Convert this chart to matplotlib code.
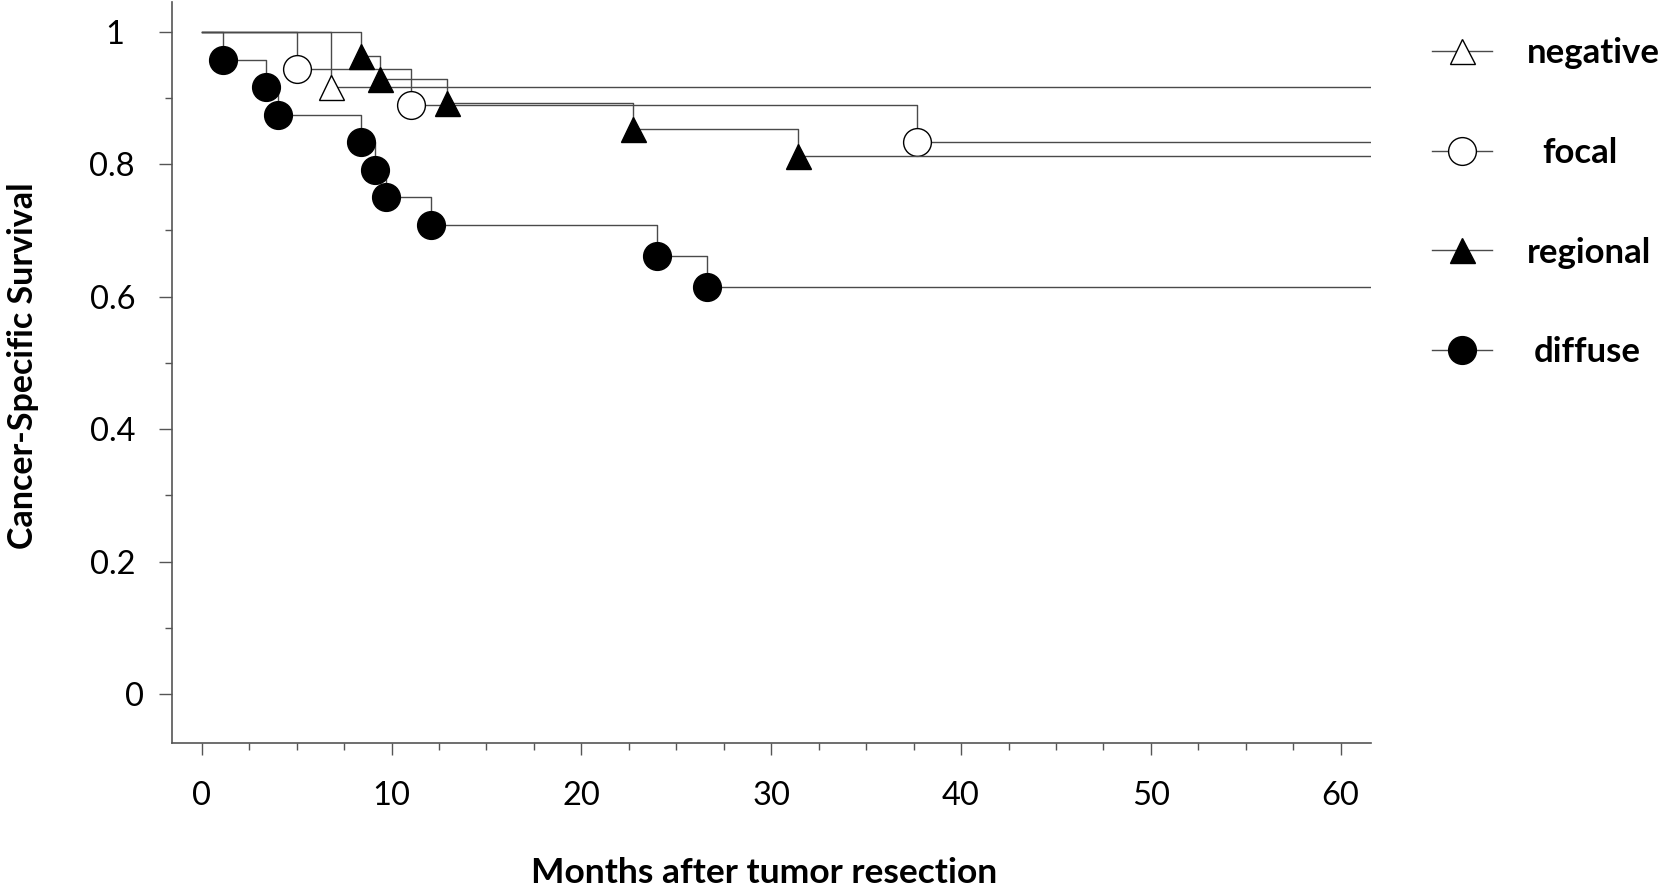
import matplotlib
matplotlib.use("Agg")
import matplotlib.pyplot as plt
import matplotlib.transforms as mtransforms
from matplotlib.ticker import MultipleLocator

plt.rcParams["font.family"] = ["Lato", "DejaVu Sans"]

# Kaplan-Meier steps (months, survival at each event)
groups = ["negative", "focal", "regional", "diffuse"]

negative_t = [6.8]
negative_s = [0.917]

focal_t = [5.0, 11.0, 37.7]
focal_s = [0.944, 0.889, 0.833]

regional_t = [8.4, 9.4, 12.9, 22.7, 31.4]
regional_s = [0.964, 0.929, 0.893, 0.854, 0.812]

diffuse_t = [1.1, 3.4, 4.0, 8.4, 9.1, 9.7, 12.1, 24.0, 26.6]
diffuse_s = [0.958, 0.917, 0.875, 0.833, 0.792, 0.750, 0.708, 0.662, 0.615]

follow_up_end = 61.6

LINE_COLOR = "#4a4a4a"
AXIS_COLOR = "#555555"

styles = {
    "negative": dict(marker="^", markersize=18, markerfacecolor="white"),
    "focal": dict(marker="o", markersize=20, markerfacecolor="white"),
    "regional": dict(marker="^", markersize=18, markerfacecolor="black"),
    "diffuse": dict(marker="o", markersize=20, markerfacecolor="black"),
}

curves = {
    "negative": (negative_t, negative_s),
    "focal": (focal_t, focal_s),
    "regional": (regional_t, regional_s),
    "diffuse": (diffuse_t, diffuse_s),
}

# small horizontal shifts of the legend labels (pixels), as in the original
label_shift = {"negative": 0, "focal": 15, "regional": 0, "diffuse": 7}


def km_path(times, surv):
    # start at 1.0, step down at each event, run flat to end of follow-up
    t = [0.0] + list(times) + [follow_up_end]
    s = [1.0] + list(surv) + [surv[-1]]
    return t, s


fig = plt.figure(figsize=(16.71, 8.86), dpi=100)
ax = fig.add_axes([0.1028, 0.1614, 0.8205 - 0.1028, 0.9977 - 0.1614])

handles = []
for name in groups:
    t, s = km_path(*curves[name])
    st = styles[name]
    line, = ax.plot(t, s, drawstyle="steps-post", color=LINE_COLOR, linewidth=1.0,
                    marker=st["marker"], markersize=st["markersize"],
                    markerfacecolor=st["markerfacecolor"], markeredgecolor="black",
                    markeredgewidth=1.0, markevery=list(range(1, len(t) - 1)),
                    label=name)
    handles.append(line)

ax.set_xlim(-1.58, 61.6)
ax.set_ylim(-0.074, 1.045)

for side in ["top", "right"]:
    ax.spines[side].set_visible(False)
for side in ["left", "bottom"]:
    ax.spines[side].set_color(AXIS_COLOR)
    ax.spines[side].set_linewidth(1.2)

ax.xaxis.set_minor_locator(MultipleLocator(2.5))
ax.yaxis.set_minor_locator(MultipleLocator(0.1))
ax.set_xticks([0, 10, 20, 30, 40, 50, 60])
ax.set_xticklabels(["0", "10", "20", "30", "40", "50", "60"])
ax.set_yticks([0, 0.2, 0.4, 0.6, 0.8, 1.0])
ax.set_yticklabels(["0", "0.2", "0.4", "0.6", "0.8", "1"])

ax.tick_params(axis="x", which="major", direction="out", length=8.6, width=1,
               color=AXIS_COLOR, labelsize=23.5, pad=19)
ax.tick_params(axis="y", which="major", direction="out", length=9.4, width=1,
               color=AXIS_COLOR, labelsize=23.5, pad=17)
ax.tick_params(which="minor", direction="out", length=5, width=1, color=AXIS_COLOR)

# nudge "0" and "1" like the original layout
for lab in ax.get_yticklabels():
    if lab.get_text() == "1":
        lab.set_transform(lab.get_transform() + mtransforms.ScaledTranslation(-0.11, 0, fig.dpi_scale_trans))
    elif lab.get_text() == "0":
        lab.set_transform(lab.get_transform() + mtransforms.ScaledTranslation(0.09, 0, fig.dpi_scale_trans))

fig.text(0.0135, 0.587, "Cancer-Specific Survival", rotation=90, ha="center", va="center",
         fontsize=24.5, fontweight="bold")
fig.text(0.457, 0.0147, "Months after tumor resection", ha="center", va="center",
         fontsize=25.5, fontweight="bold")

leg = ax.legend(handles=handles, loc="upper left", bbox_to_anchor=(0.857, 0.958),
                bbox_transform=fig.transFigure, frameon=False,
                prop={"weight": "bold", "size": 25}, handlelength=1.74,
                handletextpad=1.0, labelspacing=1.95, borderpad=0, borderaxespad=0)
for txt in leg.get_texts():
    dx = label_shift[txt.get_text()] / 100
    txt.set_transform(txt.get_transform() + mtransforms.ScaledTranslation(dx, 0, fig.dpi_scale_trans))

fig.savefig("out.png", dpi=100)
